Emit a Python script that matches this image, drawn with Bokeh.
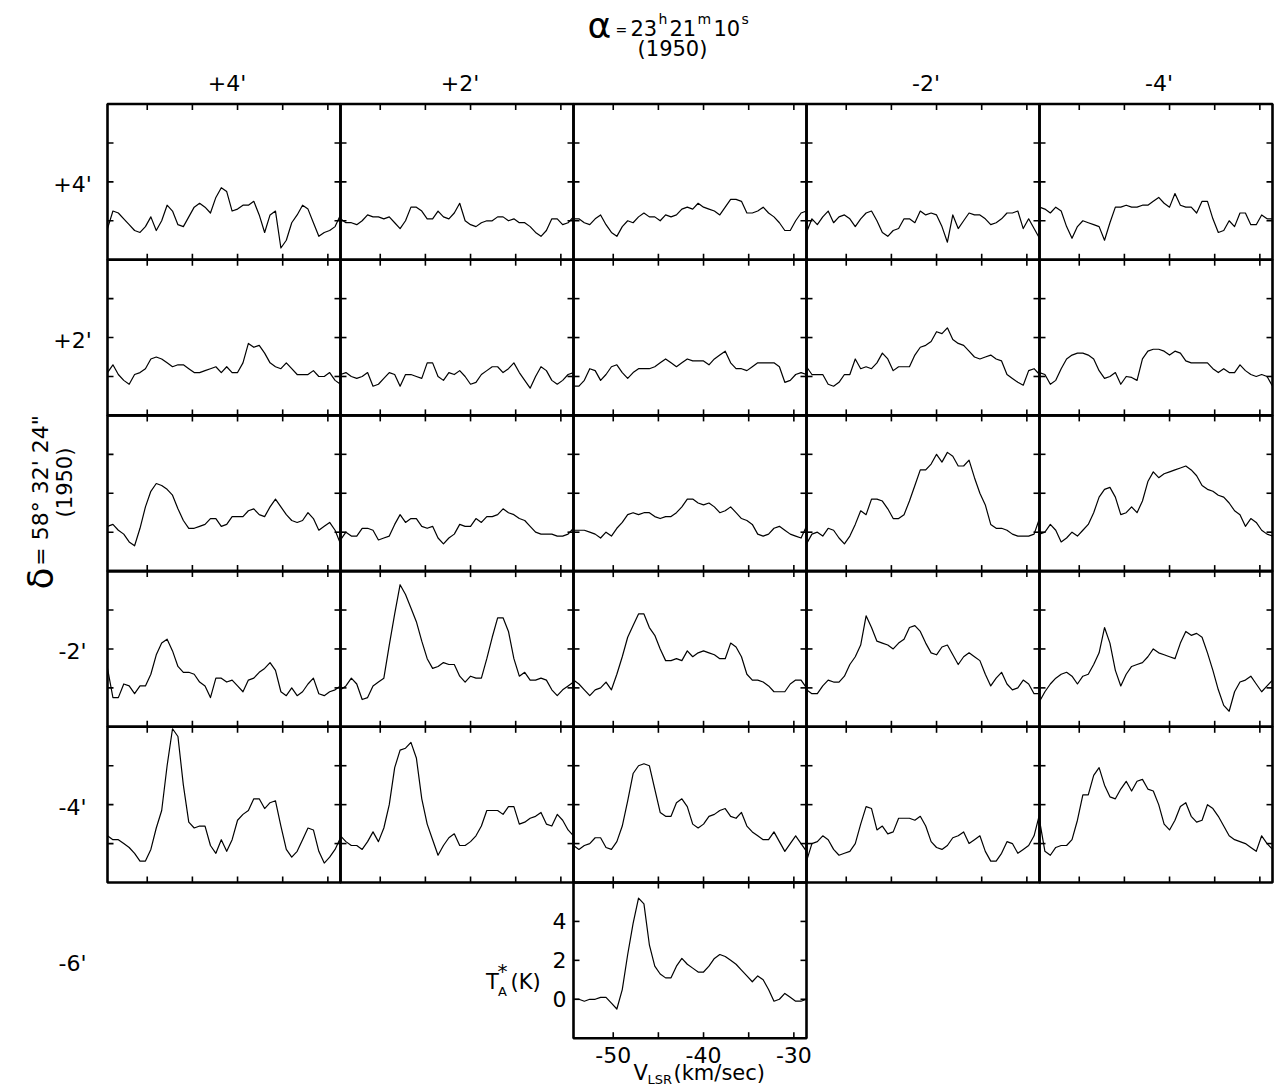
from bokeh.plotting import figure
from bokeh.models import Range1d
from bokeh.embed import file_html
from bokeh.resources import INLINE
from bokeh.core.properties import value
import math

# ---------------- data ----------------
# velocity channels (km/s), shared by every spectrum
V = [-54.4, -53.8, -53.2, -52.6, -52.0, -51.4, -50.8, -50.2, -49.6, -49.0, -48.4,
     -47.8, -47.2, -46.6, -46.0, -45.4, -44.8, -44.2, -43.6, -43.0, -42.4, -41.8,
     -41.2, -40.6, -40.0, -39.4, -38.8, -38.2, -37.6, -37.0, -36.4, -35.8, -35.2,
     -34.6, -34.0, -33.4, -32.8, -32.2, -31.6, -31.0, -30.4, -29.8, -29.2, -28.6]

# antenna temperature T*A (K); rows = dec offset (+4',+2',0,-2',-4',-6'), cols = RA offset (+4',+2',0,-2',-4')
T_R1C1 = [-0.4, 0.5, 0.4, 0.1, -0.2, -0.5, -0.6, -0.3, 0.2, -0.5, 0.0, 0.8, 0.5, -0.2, -0.3, 0.2, 0.7, 0.9, 0.7, 0.4, 1.2, 1.7, 1.5, 0.5, 0.6, 0.8, 0.8, 1.0, 0.3, -0.6, 0.3, 0.5, -1.4, -1.0, -0.1, 0.3, 0.8, 0.6, -0.1, -0.8, -0.6, -0.5, -0.3, 0.3]
T_R1C2 = [0.1, -0.1, -0.1, -0.2, 0.0, 0.3, 0.2, 0.2, 0.1, 0.2, -0.1, -0.4, 0.0, 0.7, 0.7, 0.5, 0.1, 0.1, 0.5, 0.2, 0.1, 0.4, 0.9, 0.0, -0.2, -0.3, -0.1, 0.0, 0.0, 0.2, 0.2, 0.0, 0.1, -0.1, -0.1, -0.3, -0.6, -0.8, -0.5, 0.1, 0.1, -0.2, -0.1, 0.2]
T_R1C3 = [0.1, 0.1, -0.1, -0.2, 0.1, 0.3, -0.2, -0.6, -0.8, -0.3, 0.0, -0.1, 0.2, 0.4, 0.2, 0.2, 0.0, 0.3, 0.2, 0.3, 0.6, 0.7, 0.6, 0.9, 0.7, 0.6, 0.5, 0.3, 0.7, 1.1, 1.1, 1.0, 0.4, 0.4, 0.5, 0.7, 0.4, 0.2, -0.1, -0.5, -0.5, 0.0, 0.4, 0.5]
T_R1C4 = [-0.6, 0.1, -0.2, 0.2, 0.5, -0.1, 0.2, 0.3, 0.1, -0.3, 0.1, 0.4, 0.5, 0.0, -0.6, -0.8, -0.5, -0.4, 0.1, 0.1, -0.1, 0.5, 0.3, 0.4, 0.3, -0.3, -1.1, 0.3, -0.4, 0.0, 0.4, 0.3, 0.3, 0.1, -0.2, -0.1, 0.1, 0.4, 0.4, 0.5, -0.4, 0.1, -0.4, -0.9]
T_R1C5 = [0.7, 0.6, 0.4, 0.7, 0.5, -0.3, -0.9, -0.3, 0.0, -0.1, -0.2, -0.3, -1.0, -0.1, 0.7, 0.7, 0.8, 0.7, 0.7, 0.8, 0.8, 1.0, 1.2, 0.9, 0.7, 1.4, 0.8, 0.7, 0.7, 0.4, 1.0, 1.0, 0.1, -0.6, -0.5, 0.0, -0.3, 0.4, 0.4, -0.2, -0.2, 0.3, 0.1, 0.1]

T_R2C1 = [0.2, 0.6, 0.1, -0.2, -0.4, 0.1, 0.2, 0.4, 0.9, 1.0, 0.9, 0.7, 0.5, 0.6, 0.6, 0.4, 0.2, 0.2, 0.3, 0.4, 0.5, 0.2, 0.5, 0.2, 0.2, 0.7, 1.7, 1.5, 1.6, 1.2, 0.7, 0.5, 0.4, 0.7, 0.4, 0.1, 0.1, 0.1, 0.3, 0.0, 0.0, 0.2, -0.2, -0.4]
T_R2C2 = [0.1, 0.2, 0.0, -0.1, 0.0, 0.2, -0.5, -0.4, -0.1, 0.2, 0.1, -0.5, 0.1, 0.1, 0.0, -0.1, 0.7, 0.7, 0.0, -0.2, 0.2, 0.1, 0.3, 0.0, -0.4, -0.3, 0.1, 0.3, 0.5, 0.5, 0.2, 0.4, 0.7, 0.2, -0.2, -0.6, 0.0, 0.5, 0.3, -0.2, -0.4, -0.2, 0.1, 0.2]
T_R2C3 = [-0.5, -0.5, -0.2, 0.4, 0.3, -0.2, 0.1, 0.5, 0.6, 0.2, -0.1, 0.2, 0.4, 0.4, 0.4, 0.5, 0.7, 0.9, 0.7, 0.5, 0.7, 0.9, 0.8, 0.8, 0.8, 0.6, 0.9, 1.1, 1.3, 0.7, 0.4, 0.4, 0.3, 0.5, 0.7, 0.7, 0.7, 0.7, 0.5, -0.3, -0.2, 0.1, 0.2, 0.1]
T_R2C4 = [0.5, 0.1, 0.1, 0.1, -0.4, -0.5, -0.3, 0.1, 0.1, 0.9, 0.4, 0.5, 0.4, 0.7, 1.2, 0.9, 0.3, 0.5, 0.5, 0.5, 1.1, 1.5, 1.6, 1.8, 2.3, 2.2, 2.5, 1.9, 1.7, 1.6, 1.3, 1.0, 0.9, 1.0, 1.1, 0.9, 0.8, 0.1, -0.1, -0.3, -0.45, 0.3, 0.4, 0.1]
T_R2C5 = [0.2, 0.1, -0.4, -0.2, 0.4, 0.9, 1.1, 1.2, 1.2, 1.1, 0.9, 0.3, -0.1, 0.0, 0.2, -0.4, 0.0, -0.05, -0.2, 0.9, 1.3, 1.4, 1.4, 1.3, 1.1, 1.3, 1.2, 0.8, 0.7, 0.7, 0.7, 0.7, 0.4, 0.2, 0.4, 0.2, 0.2, 0.6, 0.3, 0.1, 0.0, 0.1, 0.0, -0.5]

T_R3C1 = [0.3, 0.4, 0.1, -0.1, -0.5, -0.7, 0.2, 1.3, 2.1, 2.5, 2.4, 2.2, 1.9, 1.2, 0.6, 0.2, 0.2, 0.3, 0.4, 0.7, 0.7, 0.3, 0.4, 0.8, 0.8, 0.8, 1.1, 1.2, 0.9, 0.8, 1.3, 1.7, 1.3, 0.9, 0.6, 0.5, 0.6, 1.0, 0.7, 0.1, 0.3, 0.5, 0.1, -0.6]
T_R3C2 = [-0.4, 0.0, -0.2, -0.2, 0.2, 0.2, 0.1, -0.4, -0.3, -0.2, 0.4, 0.9, 0.5, 0.7, 0.7, 0.3, 0.2, 0.3, -0.3, -0.6, -0.3, -0.1, 0.4, 0.3, 0.3, 0.7, 0.5, 0.8, 0.8, 0.9, 1.2, 1.0, 0.9, 0.7, 0.6, 0.3, 0.0, -0.1, -0.1, -0.1, -0.2, -0.2, -0.1, 0.2]
T_R3C3 = [0.1, 0.1, 0.1, 0.0, -0.1, -0.3, 0.0, -0.2, 0.2, 0.5, 0.9, 1.0, 0.9, 1.0, 1.0, 0.8, 0.7, 0.8, 0.8, 1.0, 1.3, 1.7, 1.7, 1.5, 1.4, 1.5, 1.3, 1.0, 1.1, 1.3, 1.0, 0.7, 0.6, 0.4, -0.1, -0.2, -0.1, 0.2, 0.3, 0.1, -0.1, -0.2, -0.3, 0.3]
T_R3C4 = [-0.6, -0.1, 0.0, -0.2, 0.2, 0.1, -0.3, -0.6, -0.2, 0.4, 1.1, 0.9, 1.7, 1.7, 1.6, 1.2, 0.7, 0.7, 0.9, 1.6, 2.4, 3.2, 3.2, 3.5, 4.0, 3.6, 4.1, 3.9, 3.4, 3.4, 3.7, 2.8, 2.0, 1.4, 0.4, 0.2, 0.2, 0.1, -0.1, -0.2, -0.2, -0.2, -0.1, 0.7]
T_R3C5 = [-0.1, 0.0, 0.4, 0.1, -0.5, -0.3, 0.0, -0.2, 0.1, 0.4, 1.0, 1.8, 2.2, 2.3, 1.8, 0.9, 1.0, 1.3, 1.0, 1.6, 2.6, 3.1, 2.8, 3.0, 3.1, 3.2, 3.3, 3.4, 3.2, 2.9, 2.4, 2.2, 2.1, 1.9, 1.8, 1.5, 1.1, 0.9, 0.3, 0.7, 0.5, 0.1, -0.1, -0.2]

T_R4C1 = [1.0, -0.5, -0.5, 0.2, 0.1, -0.3, 0.1, 0.1, 0.7, 1.7, 2.3, 2.5, 1.9, 1.1, 0.8, 0.8, 0.7, 0.3, 0.1, -0.5, 0.5, 0.5, 0.3, 0.4, 0.1, -0.2, 0.4, 0.5, 0.8, 1.0, 1.3, 0.9, -0.2, -0.4, 0.0, -0.4, -0.2, 0.2, 0.5, -0.3, -0.4, -0.2, -0.1, 0.1]
T_R4C2 = [-0.1, 0.1, 0.5, 0.2, -0.6, -0.5, 0.1, 0.3, 0.5, 2.2, 3.8, 5.3, 4.8, 4.1, 3.4, 2.4, 1.5, 1.0, 1.1, 1.3, 1.2, 1.2, 0.6, 0.3, 0.6, 0.5, 0.5, 1.5, 2.6, 3.6, 3.6, 2.9, 1.5, 0.6, 0.8, 0.4, 0.4, 0.5, 0.4, -0.1, -0.4, -0.1, 0.1, 0.3]
T_R4C3 = [0.4, 0.2, -0.1, -0.4, -0.1, 0.0, 0.3, -0.1, 0.7, 1.6, 2.6, 3.2, 3.8, 3.8, 3.1, 2.7, 2.0, 1.4, 1.4, 1.5, 1.4, 1.9, 1.6, 1.8, 1.9, 1.8, 1.7, 1.5, 1.5, 2.3, 2.1, 1.6, 0.7, 0.4, 0.4, 0.3, 0.1, -0.2, -0.2, -0.2, 0.2, 0.4, 0.4, 0.0]
T_R4C4 = [-0.1, -0.3, -0.3, 0.1, 0.4, 0.3, 0.3, 0.6, 1.2, 1.6, 2.2, 3.7, 3.1, 2.4, 2.3, 2.2, 2.0, 2.3, 2.5, 3.1, 3.2, 2.9, 2.3, 1.8, 1.7, 2.1, 2.2, 1.7, 1.2, 1.6, 1.8, 1.6, 1.4, 0.7, 0.1, 0.5, 0.8, 0.2, -0.1, 0.0, 0.4, 0.2, -0.3, -0.3]
T_R4C5 = [-0.7, -0.2, 0.2, 0.5, 0.7, 0.8, 0.6, 0.2, 0.6, 0.7, 1.2, 1.8, 3.1, 2.3, 0.9, 0.1, 0.7, 1.1, 1.2, 1.3, 1.6, 2.0, 1.8, 1.7, 1.6, 1.5, 2.3, 2.9, 2.7, 2.8, 2.6, 1.8, 0.9, -0.1, -0.9, -1.2, -0.2, 0.3, 0.4, 0.6, 0.2, -0.2, 0.1, 0.4]

T_R5C1 = [0.4, 0.2, 0.2, 0.0, -0.2, -0.5, -0.9, -0.9, -0.3, 0.8, 1.7, 4.0, 5.9, 5.5, 3.0, 1.1, 0.8, 0.9, 0.9, -0.1, -0.5, 0.2, -0.4, 0.2, 1.2, 1.5, 1.7, 2.3, 2.3, 1.8, 2.1, 2.2, 0.9, -0.3, -0.7, -0.4, 0.2, 0.8, 0.7, -0.4, -1.0, -0.7, -0.3, 0.3]
T_R5C2 = [0.4, 0.1, -0.1, -0.1, -0.3, 0.1, 0.6, 0.1, 0.8, 2.0, 3.9, 4.8, 4.9, 5.2, 4.4, 2.3, 1.0, 0.2, -0.6, -0.1, 0.3, 0.5, -0.1, -0.1, 0.1, 0.4, 0.9, 1.7, 1.7, 1.7, 1.5, 1.9, 1.9, 1.0, 1.1, 1.3, 1.4, 1.6, 1.0, 0.9, 1.5, 1.2, 0.7, 0.4]
T_R5C3 = [-0.1, -0.3, -0.1, 0.0, 0.3, 0.3, -0.2, -0.3, 0.1, 0.9, 2.2, 3.6, 4.0, 4.1, 4.0, 2.8, 1.6, 1.4, 1.4, 2.1, 2.3, 1.9, 1.0, 0.8, 1.0, 1.4, 1.5, 1.7, 1.8, 1.4, 1.3, 1.6, 0.9, 0.6, 0.4, 0.2, 0.2, 0.6, 0.1, -0.4, 0.0, 0.4, 0.0, -0.4]
T_R5C4 = [-0.9, 0.0, 0.1, 0.4, 0.2, -0.3, -0.6, -0.5, -0.4, 0.0, 1.0, 1.9, 1.8, 0.7, 0.9, 0.5, 0.6, 1.3, 1.3, 1.3, 1.2, 1.4, 0.9, 0.1, -0.2, -0.3, -0.1, 0.3, 0.4, 0.6, 0.0, 0.2, 0.4, -0.4, -0.9, -0.9, -0.5, 0.1, 0.0, -0.5, -0.3, -0.1, 0.4, 1.5]
T_R5C5 = [1.2, -0.4, -0.6, -0.2, -0.1, -0.1, 0.2, 1.2, 2.5, 2.5, 3.5, 3.9, 3.0, 2.4, 2.3, 2.8, 3.2, 2.7, 3.2, 3.3, 2.8, 2.7, 2.0, 1.0, 0.7, 1.2, 1.9, 2.1, 1.4, 1.1, 1.2, 2.0, 1.8, 1.4, 0.9, 0.4, 0.2, 0.1, 0.0, -0.2, -0.4, 0.4, 0.0, -0.3]

T_R6C3 = [0.0, 0.0, -0.1, 0.0, 0.0, 0.1, 0.1, -0.2, -0.5, 0.5, 2.3, 3.9, 5.2, 4.9, 2.8, 1.7, 1.3, 1.1, 1.1, 1.7, 2.1, 1.8, 1.6, 1.4, 1.4, 1.7, 2.1, 2.3, 2.2, 2.0, 1.8, 1.5, 1.2, 0.9, 1.2, 1.0, 0.5, -0.1, 0.0, 0.3, 0.1, -0.1, -0.1, 0.0]

COL_LABELS = ["+4'", "+2'", "", "-2'", "-4'"]
ROW_LABELS = ["+4'", "+2'", "", "-2'", "-4'", "-6'"]
X_TICKS = [-50, -45, -40, -35, -30]
Y_TICKS = [0, 2, 4]
X_TICK_LABEL_POS = [-50, -40, -30]
X_TICK_LABELS = ["-50", "-40", "-30"]
Y_TICK_LABELS = ["0", "2", "4"]

GRID = [
    [T_R1C1, T_R1C2, T_R1C3, T_R1C4, T_R1C5],
    [T_R2C1, T_R2C2, T_R2C3, T_R2C4, T_R2C5],
    [T_R3C1, T_R3C2, T_R3C3, T_R3C4, T_R3C5],
    [T_R4C1, T_R4C2, T_R4C3, T_R4C4, T_R4C5],
    [T_R5C1, T_R5C2, T_R5C3, T_R5C4, T_R5C5],
    [None, None, T_R6C3, None, None],
]

# ---------------- layout / style ----------------
VMIN, VMAX = -54.4, -28.6
TMIN, TMAX = -2.0, 6.0
W, H = 1274, 1088
X0, PW = 107.0, 233.0
Y0, PH = 103.5, 155.7
TICK = 6.0
FONT = "DejaVu Sans"

p = figure(width=W, height=H, x_range=Range1d(0, W), y_range=Range1d(H, 0),
           x_axis_type=None, y_axis_type=None, toolbar_location=None,
           output_backend="svg", min_border=0, outline_line_color=None,
           background_fill_color="white", border_fill_color="white")


def label(x, y, s, size, align="center", baseline="middle", angle=0.0):
    p.text(x=[x], y=[y], text=[s], text_font=value(FONT),
           text_font_size=value(f"{size}px"), text_align=align,
           text_baseline=baseline, angle=angle, text_color="black")


dx = TICK * (VMAX - VMIN) / PW
dy = TICK * (TMAX - TMIN) / PH

for r, row in enumerate(GRID):
    for c, T in enumerate(row):
        if T is None:
            continue
        left = X0 + c * PW
        top = Y0 + r * PH
        sub = p.subplot(x_source=Range1d(VMIN, VMAX), y_source=Range1d(TMIN, TMAX),
                        x_target=Range1d(left, left + PW),
                        y_target=Range1d(top + PH, top))
        n, m = len(X_TICKS), len(Y_TICKS)
        tick_kw = dict(line_color="black", line_width=1.6)
        sub.segment(x0=X_TICKS, y0=[TMIN] * n, x1=X_TICKS, y1=[TMIN + dy] * n, **tick_kw)
        sub.segment(x0=X_TICKS, y0=[TMAX] * n, x1=X_TICKS, y1=[TMAX - dy] * n, **tick_kw)
        sub.segment(x0=[VMIN] * m, y0=Y_TICKS, x1=[VMIN + dx] * m, y1=Y_TICKS, **tick_kw)
        sub.segment(x0=[VMAX] * m, y0=Y_TICKS, x1=[VMAX - dx] * m, y1=Y_TICKS, **tick_kw)
        k = min(len(V), len(T))
        sub.line(V[:k], T[:k], line_color="black", line_width=1.2, line_join="round")
        sub.quad(left=[VMIN], right=[VMAX], bottom=[TMIN], top=[TMAX],
                 fill_color=None, line_color="black", line_width=2.6)
        if r == len(GRID) - 1:
            ylab = TMIN - 17 * (TMAX - TMIN) / PH
            sub.text(x=X_TICK_LABEL_POS, y=[ylab] * len(X_TICK_LABEL_POS), text=X_TICK_LABELS,
                     text_align="center", text_baseline="middle",
                     text_font=value(FONT), text_font_size=value("22px"), text_color="black")
            xlab = VMIN - 7 * (VMAX - VMIN) / PW
            sub.text(x=[xlab] * m, y=Y_TICKS, text=Y_TICK_LABELS,
                     text_align="right", text_baseline="middle",
                     text_font=value(FONT), text_font_size=value("22px"), text_color="black")
            # axis titles
            label(left - 81, top + PH * 0.64, "T", 21)
            label(left - 71, top + PH * 0.57, "*", 20)
            label(left - 71, top + PH * 0.70, "A", 13)
            label(left - 63, top + PH * 0.64, "(K)", 21, align="left")
            label(left + 60, top + PH + 35, "V", 21, align="left")
            label(left + 74, top + PH + 41, "LSR", 13, align="left")
            label(left + 100, top + PH + 35, "(km/sec)", 21, align="left")

# column / row offset labels
for c, s in enumerate(COL_LABELS):
    if s:
        label(X0 + (c + 0.5) * PW + 3, 83, s, 22)
for r, s in enumerate(ROW_LABELS):
    if s:
        label(72, Y0 + (r + 0.5) * PH + 3, s, 22)

# right ascension title
label(587, 25, "α", 36, align="left")
label(615, 29, "=", 14, align="left")
label(630, 27, "23", 21, align="left")
label(658, 18, "h", 14, align="left")
label(669, 27, "21", 21, align="left")
label(697, 18, "m", 14, align="left")
label(713, 27, "10", 21, align="left")
label(741, 18, "s", 14, align="left")
label(672, 48, "(1950)", 21)

# declination title (rotated)
label(40, 578, "δ", 36, angle=math.pi / 2)
label(40, 490, "= 58° 32' 24\"", 22, angle=math.pi / 2)
label(64, 482, "(1950)", 21, angle=math.pi / 2)

open("out.html", "w").write(file_html(p, INLINE))
